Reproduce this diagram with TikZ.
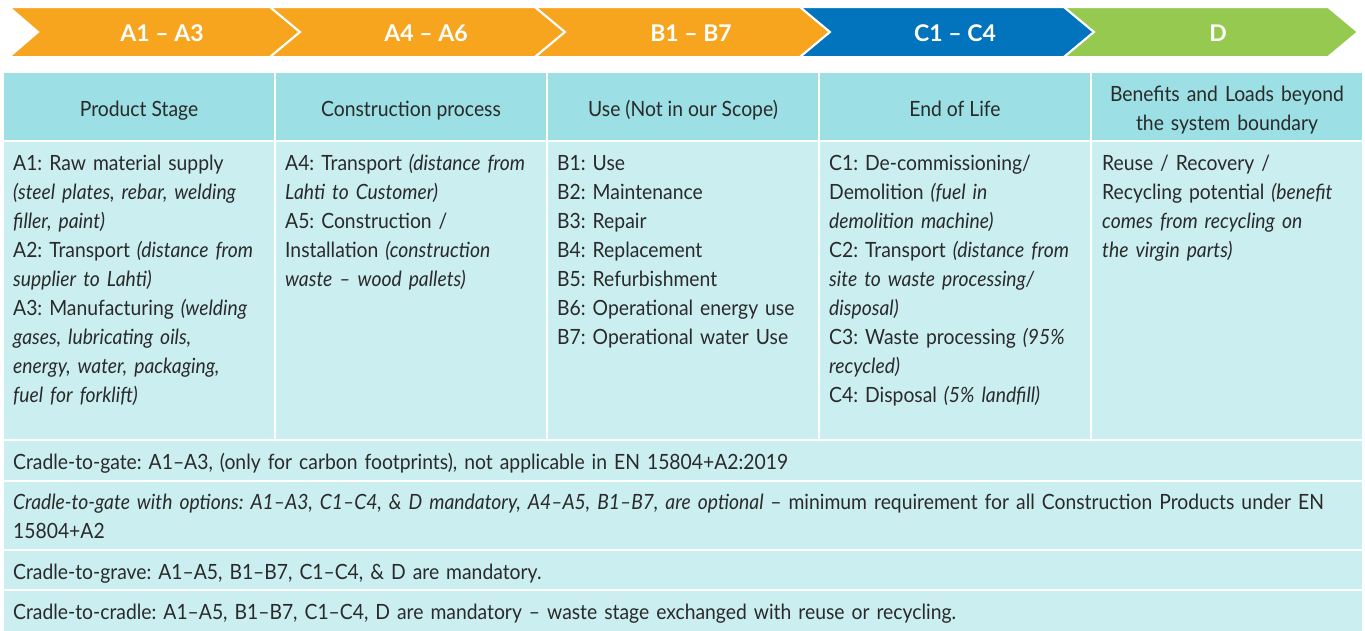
\documentclass[tikz,border=0pt]{standalone}
\usepackage{fontspec}
\setmainfont{Lato}[FakeStretch=0.92]
\newfontfamily\stagefont{Lato}
\definecolor{stageorange}{HTML}{F7A51E}
\definecolor{stageblue}{HTML}{0174BD}
\definecolor{stagegreen}{HTML}{95C94F}
\definecolor{headcell}{HTML}{9CDFE4}
\definecolor{bodycell}{HTML}{CBEEF0}
\definecolor{ink}{HTML}{2A2A2A}
\newcommand\bodyfont{\frenchspacing\fontsize{21}{29}\selectfont}
\begin{document}
\begin{tikzpicture}[x=1pt,y=-1pt,
  stagearrow/.style={draw=white,line width=2pt,line join=miter},
  stagelabel/.style={text=white,font=\stagefont\bfseries\fontsize{23}{26}\selectfont,inner sep=0pt,anchor=base},
  headcellbox/.style={fill=headcell,draw=white,line width=2pt},
  bodycellbox/.style={fill=bodycell,draw=white,line width=2pt},
  headtext/.style={text=ink,font=\bodyfont,inner sep=0pt,anchor=base,align=center},
  celltext/.style={text=ink,font=\bodyfont,inner sep=0pt,anchor=base west,text width=264pt,align=left},
  rowtext/.style={text=ink,font=\bodyfont,inner sep=0pt,anchor=base west,text width=1340pt,align=left}]
\useasboundingbox (0,0) rectangle (1365,630);
\fill[white] (0,0) rectangle (1365,630);

% life-cycle stage chevrons
\path[stagearrow,fill=stageorange] (9,7) -- (270,7) -- (300,32) -- (270,57) -- (9,57) -- (38,32) -- cycle;
\path[stagearrow,fill=stageorange] (270,7) -- (535,7) -- (565,32) -- (535,57) -- (270,57) -- (300,32) -- cycle;
\path[stagearrow,fill=stageorange] (535,7) -- (800,7) -- (830,32) -- (800,57) -- (535,57) -- (565,32) -- cycle;
\path[stagearrow,fill=stageblue] (800,7) -- (1064,7) -- (1094,32) -- (1064,57) -- (800,57) -- (830,32) -- cycle;
\path[stagearrow,fill=stagegreen] (1064,7) -- (1328,7) -- (1358,32) -- (1328,57) -- (1064,57) -- (1094,32) -- cycle;
\node[stagelabel] (sa) at (162,41) {A1 – A3};
\node[stagelabel] (sb) at (426,41) {A4 – A6};
\node[stagelabel] (sc) at (691,41) {B1 – B7};
\node[stagelabel] (sd) at (955,41) {C1 – C4};
\node[stagelabel] (se) at (1218,41) {D};

% table cells
\foreach \xa/\xb in {3/275,275/547,547/819,819/1091,1091/1363}{
  \path[headcellbox] (\xa,72) rectangle (\xb,141);
  \path[bodycellbox] (\xa,141) rectangle (\xb,440);
}
\path[bodycellbox] (3,440) rectangle (1363,481);
\path[bodycellbox] (3,481) rectangle (1363,550);
\path[bodycellbox] (3,550) rectangle (1363,590);
\path[bodycellbox] (3,590) rectangle (1363,632);

% column headings
\node[headtext] (h1) at (139,116) {Product Stage};
\node[headtext] (h2) at (411,116) {Construction process};
\node[headtext] (h3) at (683,116) {Use (Not in our Scope)};
\node[headtext] (h4) at (955,116) {End of Life};
\node[headtext,text width=268pt] (h5) at (1227,101) {Benefits and Loads beyond\\the system boundary};

% module descriptions
\node[celltext] (c1) at (13,170) {A1: Raw material supply\\\textit{(steel plates, rebar, welding}\\\textit{filler, paint)}\\A2: Transport \textit{(distance from}\\\textit{supplier to Lahti)}\\A3: Manufacturing \textit{(welding}\\\textit{gases, lubricating oils,}\\\textit{energy, water, packaging,}\\\textit{fuel for forklift)}};
\node[celltext] (c2) at (285,170) {A4: Transport \textit{(distance from}\\\textit{Lahti to Customer)}\\A5: Construction /\\Installation \textit{(construction}\\\textit{waste – wood pallets)}};
\node[celltext] (c3) at (557,170) {B1: Use\\B2: Maintenance\\B3: Repair\\B4: Replacement\\B5: Refurbishment\\B6: Operational energy use\\B7: Operational water Use};
\node[celltext] (c4) at (829,170) {C1: De-commissioning/\\Demolition \textit{(fuel in}\\\textit{demolition machine)}\\C2: Transport \textit{(distance from}\\\textit{site to waste processing/}\\\textit{disposal)}\\C3: Waste processing \textit{(95\%}\\\textit{recycled)}\\C4: Disposal \textit{(5\% landfill)}};
\node[celltext] (c5) at (1102,170) {Reuse / Recovery /\\Recycling potential \textit{(benefit}\\\textit{comes from recycling on}\\\textit{the virgin parts)}};

% system boundary scenarios
\node[rowtext] (r1) at (13,469) {Cradle-to-gate: A1–A3, (only for carbon footprints), not applicable in EN 15804+A2:2019};
\node[rowtext] (r2) at (13,509) {\textit{Cradle-to-gate with options: A1–A3, C1–C4, \& D mandatory, A4–A5, B1–B7, are optional} – minimum requirement for all Construction Products under EN\\15804+A2};
\node[rowtext] (r3) at (13,579) {Cradle-to-grave: A1–A5, B1–B7, C1–C4, \& D are mandatory.};
\node[rowtext] (r4) at (13,619) {Cradle-to-cradle: A1–A5, B1–B7, C1–C4, D are mandatory – waste stage exchanged with reuse or recycling.};
\end{tikzpicture}
\end{document}
